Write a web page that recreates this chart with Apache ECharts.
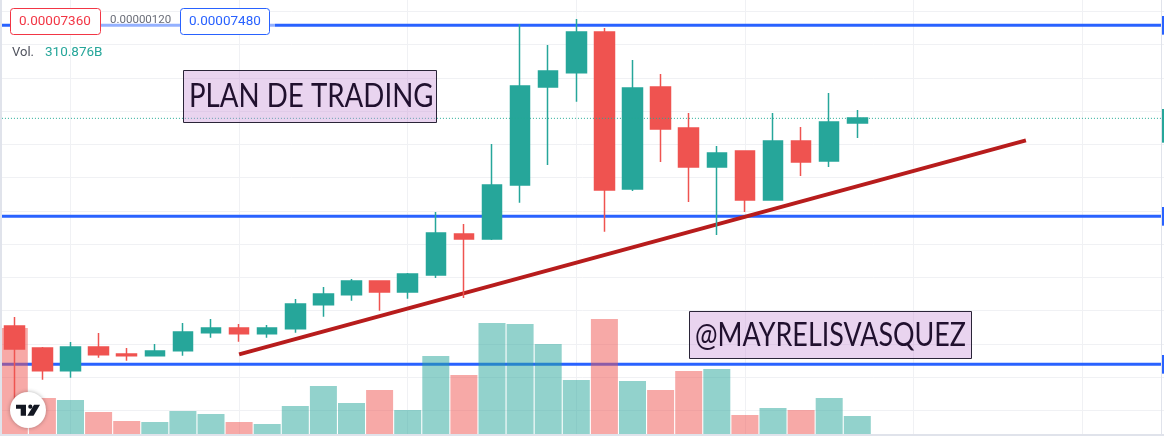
<!DOCTYPE html>
<html>
<head>
<meta charset="utf-8">
<title>PLAN DE TRADING</title>
<style>
html,body{margin:0;padding:0;background:#fff;overflow:hidden}
#chart{width:1164px;height:436px}
</style>
<script src="https://cdn.jsdelivr.net/npm/echarts@6/dist/echarts.min.js"></script>
</head>
<body>
<div id="chart"></div>
<script>
// precios en millonesimas (69.20 = 0.00006920), volumen en miles de millones (B)
var categories = ['1','2','3','4','5','6','7','8','9','10','11','12','13','14','15','16','17','18','19','20','21','22','23','24','25','26','27','28','29','30','31','','','','','','','','','','',''];
// open, close, low, high
var candles = [
	[56.74,55.36,52.30,57.28],[55.42,54.06,53.52,55.48],[54.06,55.48,53.64,55.78],[55.48,55.02,54.84,56.32],
	[55.06,54.96,54.66,55.42],[54.96,55.24,54.96,55.66],[55.26,56.38,54.96,56.92],[56.34,56.62,56.04,57.16],
	[56.62,56.28,55.80,56.86],[56.28,56.62,56.04,56.80],[56.58,58.06,56.34,58.36],[58.02,58.66,57.30,59.08],
	[58.62,59.44,58.26,59.56],[59.44,58.78,57.66,59.44],[58.78,59.86,58.38,59.92],[59.80,62.32,59.62,63.58],
	[62.26,61.96,58.42,62.86],[61.96,65.20,61.90,67.66],[65.20,71.14,64.14,74.86],[71.08,72.04,66.40,73.60],
	[71.94,74.38,70.20,75.16],[74.38,64.90,62.40,74.62],[64.96,71.02,64.84,72.70],[71.08,68.56,66.58,71.86],
	[68.62,66.28,64.18,69.52],[66.28,67.12,62.20,67.54],[67.24,64.30,63.58,67.24],[64.30,67.84,64.30,69.52],
	[67.84,66.58,65.74,68.68],[66.64,68.98,66.28,70.72],[68.92,69.22,68.02,69.70]
];
var volumes = [1831,622,587,380,225,207,397,345,207,173,484,829,535,760,414,1347,1019,1917,1900,1554,933,1986,915,760,1088,1123,328,449,414,622,311];
var levels = [74.78,63.32,54.44];
var lastPrice = 69.20;
var trendX = [8,36];
var trendY = [55.04,67.88];
var priceTicks = [75.60,73.64,71.60,69.62,67.64,65.66,63.64,61.64,59.66,57.68,55.66,53.66,51.68];
var timeTicks = [2,8,14,20,26,32,38];

var UP = '#26a69a', DOWN = '#ef5350', BLUE = '#2962ff', GRID = '#f0f1f4';
var LINE_FROM = -0.44, LINE_TO = 40.81;

var volumeData = volumes.map(function(v, i) {
	var up = candles[i][1] >= candles[i][0];
	return {value: v, itemStyle: {color: up ? 'rgba(38,166,154,0.5)' : 'rgba(239,83,80,0.5)'}};
});

var series = [];
levels.forEach(function(p) {
	series.push({
		type: 'line', xAxisIndex: 1, yAxisIndex: 0, z: 1, silent: true, symbol: 'none',
		lineStyle: {color: BLUE, width: 3},
		data: [[LINE_FROM, p], [LINE_TO, p]],
		markArea: {
			silent: true,
			itemStyle: {color: BLUE, opacity: 1},
			data: [[{coord: [LINE_TO, p + 0.56]}, {coord: [41.2, p - 0.56]}]]
		}
	});
});
series.push({
	type: 'line', xAxisIndex: 1, yAxisIndex: 0, z: 1, silent: true, symbol: 'none',
	lineStyle: {color: '#b71c1c', width: 4},
	data: [[trendX[0], trendY[0]], [trendX[1], trendY[1]]]
});
series.push({
	type: 'bar', xAxisIndex: 0, yAxisIndex: 1, z: 2, silent: true,
	barWidth: 27, data: volumeData
});
series.push({
	type: 'candlestick', xAxisIndex: 0, yAxisIndex: 0, z: 3, silent: true,
	barWidth: 20,
	itemStyle: {color: UP, color0: DOWN, borderColor: UP, borderColor0: DOWN, borderWidth: 1.5},
	data: candles
});
series.push({
	type: 'line', xAxisIndex: 1, yAxisIndex: 0, z: 4, silent: true, symbol: 'none',
	lineStyle: {color: '#22ab94', width: 1, type: [1, 2]},
	data: [[LINE_FROM, lastPrice], [LINE_TO, lastPrice]],
	markArea: {
		silent: true,
		itemStyle: {color: UP, opacity: 1},
		data: [[{coord: [LINE_TO, 69.76]}, {coord: [41.2, 67.74]}]]
	}
});

// recuadros de texto, etiquetas y logo
function box(x, y, w, h, stroke) {
	return {type: 'rect', z: 100, shape: {x: x, y: y, width: w, height: h, r: 3},
		style: {fill: '#fff', stroke: stroke, lineWidth: 1}};
}
function label(text, x, y, size, color, scaleX) {
	return {type: 'text', z: 101, x: x, y: y, scaleX: scaleX || 1,
		style: {text: text, x: 0, y: 0, fill: color, font: size + 'px Roboto', textVerticalAlign: 'middle'}};
}
function note(text, x, y, w, h, textX, size, scaleX) {
	return [
		{type: 'rect', z: 100, shape: {x: x + 0.5, y: y + 0.5, width: w, height: h},
			style: {fill: 'rgba(200,148,215,0.4)', stroke: '#2a2438', lineWidth: 1}},
		{type: 'text', z: 101, x: textX, y: y + h / 2 + 1, scaleX: scaleX,
			style: {text: text, x: 0, y: 0, fill: '#20102e', font: size + 'px Lato', textVerticalAlign: 'middle'}}
	];
}
var graphics = [
	{type: 'rect', z: 99, shape: {x: 100, y: 23, width: 175, height: 5}, style: {fill: 'rgba(255,255,255,0.5)'}},
	box(10.5, 8.5, 90, 26, '#f23645'),
	box(180.5, 8.5, 89, 26, BLUE),
	label('0.00007360', 19, 21.5, 13.5, '#f23645'),
	label('0.00000120', 110, 20.5, 11.5, '#6a6d78'),
	label('0.00007480', 189, 21.5, 13.5, BLUE),
	label('Vol.', 12, 52.5, 13, '#50535e'),
	label('310.876B', 45, 52.5, 13.5, '#26a69a'),
	{type: 'rect', z: 110, shape: {x: 0, y: 0, width: 2, height: 436}, style: {fill: '#e0e3eb'}},
	{type: 'rect', z: 98, shape: {x: 0, y: 434, width: 1164, height: 2}, style: {fill: '#e0e3eb'}},
	{type: 'rect', z: 98, shape: {x: 1161, y: 0, width: 1, height: 436}, style: {fill: '#e0e3eb'}},
	{type: 'circle', z: 100, shape: {cx: 28, cy: 410, r: 18},
		style: {fill: '#fff', shadowBlur: 4, shadowColor: 'rgba(0,0,0,0.3)'}},
	{type: 'polygon', z: 101, shape: {points: [[16,404.7],[26,404.7],[26,415.7],[20.7,415.7],[20.7,408.7],[16,408.7]]}, style: {fill: '#131722'}},
	{type: 'circle', z: 101, shape: {cx: 30.3, cy: 406.7, r: 2.1}, style: {fill: '#131722'}},
	{type: 'polygon', z: 101, shape: {points: [[34,404.7],[40,404.7],[33.5,415.7],[27.3,415.7]]}, style: {fill: '#131722'}}
].concat(
	note('PLAN DE TRADING', 183, 70, 253, 52, 189, 32, 0.865),
	note('@MAYRELISVASQUEZ', 689, 311, 282, 47, 695, 32, 0.84)
);

var myChart = echarts.init(document.getElementById('chart'));
var option = {
	animation: false,
	backgroundColor: '#fff',
	grid: {left: 0.25, top: 0, width: 1180.2, height: 434, outerBoundsMode: 'none'},
	xAxis: [{
		type: 'category', data: categories, boundaryGap: true,
		axisLine: {show: false}, axisTick: {show: false}, axisLabel: {show: false}, splitLine: {show: false}
	}, {
		type: 'value', min: -0.5, max: 41.5,
		axisLine: {show: false}, axisLabel: {show: false},
		axisTick: {show: false, customValues: timeTicks},
		splitLine: {show: true, lineStyle: {color: GRID, width: 1}}
	}],
	yAxis: [{
		type: 'value', min: 50.26, max: 76.3, position: 'right',
		axisLine: {show: false}, axisLabel: {show: false},
		axisTick: {show: false, customValues: priceTicks},
		splitLine: {show: true, lineStyle: {color: GRID, width: 1}}
	}, {
		type: 'value', min: 0, max: 7495, position: 'left',
		axisLine: {show: false}, axisTick: {show: false}, axisLabel: {show: false}, splitLine: {show: false}
	}],
	series: series,
	graphic: graphics
};
myChart.setOption(option);
</script>
</body>
</html>
